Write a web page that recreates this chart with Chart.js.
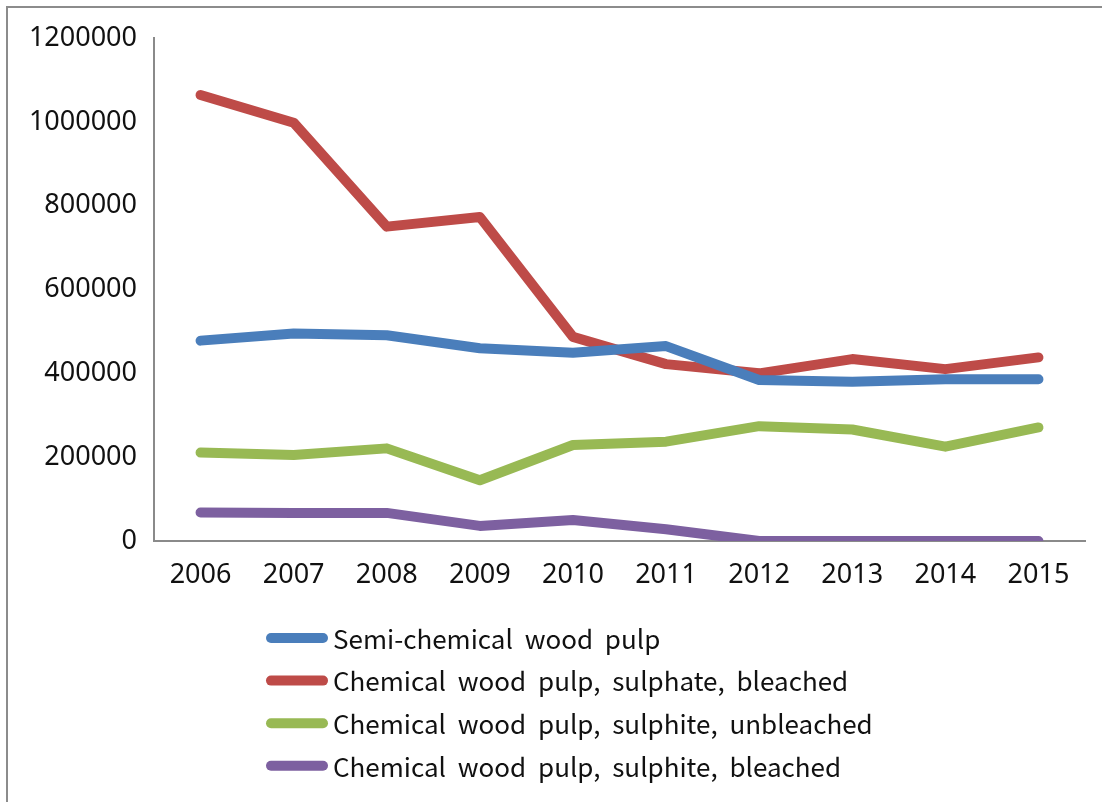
<!DOCTYPE html>
<html>
<head>
<meta charset="utf-8">
<script src="https://cdn.jsdelivr.net/npm/chart.js@4/dist/chart.umd.min.js"></script>
<style>
  html, body { margin: 0; padding: 0; background: #fff; }
  #wrap { position: relative; width: 1102px; height: 802px; overflow: hidden; }
  /* grey frame: only top and left edges show in the original */
  #frame {
    position: absolute; left: 6px; top: 6px; width: 1200px; height: 900px;
    border-top: 2px solid #8c8c8c; border-left: 2px solid #8c8c8c;
    pointer-events: none;
  }
  canvas { position: absolute; left: 0; top: 0; }
</style>
</head>
<body>
<div id="wrap">
  <canvas id="chart" width="1102" height="802"></canvas>
  <div id="frame"></div>
</div>
<script>
// Years on the x axis
const years = ["2006", "2007", "2008", "2009", "2010", "2011", "2012", "2013", "2014", "2015"];

// Series values
const semiChemical = [478000, 495000, 491000, 460000, 449000, 465000, 384000, 380000, 386000, 386000];
const sulphateBleached = [1064000, 998000, 750000, 773000, 487000, 422000, 400000, 434000, 410000, 438000];
const sulphiteUnbleached = [211000, 205000, 221000, 145000, 229000, 237000, 274000, 266000, 225000, 271000];
const sulphiteBleached = [68000, 67000, 67000, 36000, 50000, 28000, 0, 0, 0, 0];

const seriesNames = [
  "Semi-chemical wood pulp",
  "Chemical wood pulp, sulphate, bleached",
  "Chemical wood pulp, sulphite, unbleached",
  "Chemical wood pulp, sulphite, bleached",
];
const seriesColors = ["#4a7ebb", "#be4b48", "#98b954", "#7d60a0"];
const yTicks = [0, 200000, 400000, 600000, 800000, 1000000, 1200000];

const FONT = "'Noto Sans', 'DejaVu Sans', sans-serif";
const LEGEND_FONT = "'Noto Sans CJK KR', 'Noto Sans', sans-serif";

// Vertical legend below the plot, left aligned like the original
const stackedLegend = {
  id: "stackedLegend",
  afterDraw(chart) {
    const ctx = chart.ctx;
    const top = chart.chartArea.bottom + 97;
    const rowGap = 42.6;
    ctx.save();
    chart.data.datasets.forEach((ds, i) => {
      const y = top + i * rowGap;
      ctx.strokeStyle = ds.borderColor;
      ctx.lineWidth = 10;
      ctx.lineCap = "round";
      ctx.beginPath();
      ctx.moveTo(271, y);
      ctx.lineTo(323, y);
      ctx.stroke();
      ctx.fillStyle = "#111";
      ctx.font = "26px " + LEGEND_FONT;
      ctx.textBaseline = "middle";
      if ("wordSpacing" in ctx) ctx.wordSpacing = "6px";
      ctx.fillText(ds.label, 333, y + 1);
    });
    ctx.restore();
  },
};

const datasets = [semiChemical, sulphateBleached, sulphiteUnbleached, sulphiteBleached].map((vals, i) => ({
  label: seriesNames[i],
  data: vals,
  borderColor: seriesColors[i],
  backgroundColor: seriesColors[i],
  borderWidth: 10,
  borderCapStyle: "round",
  borderJoinStyle: "round",
  pointRadius: 0,
  tension: 0,
}));

new Chart(document.getElementById("chart"), {
  type: "line",
  data: { labels: years, datasets },
  plugins: [stackedLegend],
  options: {
    responsive: false,
    animation: false,
    layout: { padding: { left: 0, top: 38, right: 17, bottom: 216 } },
    plugins: { legend: { display: false }, tooltip: { enabled: false } },
    scales: {
      x: {
        offset: true,
        grid: { display: false, drawTicks: false },
        border: { display: true, color: "#8a8a8a", width: 2 },
        ticks: { color: "#111", font: { family: FONT, size: 27 }, padding: 18, maxRotation: 0 },
        afterFit(scale) { scale.height = 45; },
      },
      y: {
        min: 0,
        max: 1200000,
        grid: { display: false, drawTicks: false },
        border: { display: true, color: "#8a8a8a", width: 2 },
        afterBuildTicks(scale) { scale.ticks = yTicks.map(v => ({ value: v })); },
        ticks: {
          color: "#111",
          font: { family: FONT, size: 27 },
          padding: 17,
          callback: v => String(v), // plain numbers, no thousands separator
        },
        afterFit(scale) { scale.width = 154; },
      },
    },
  },
});
</script>
</body>
</html>
